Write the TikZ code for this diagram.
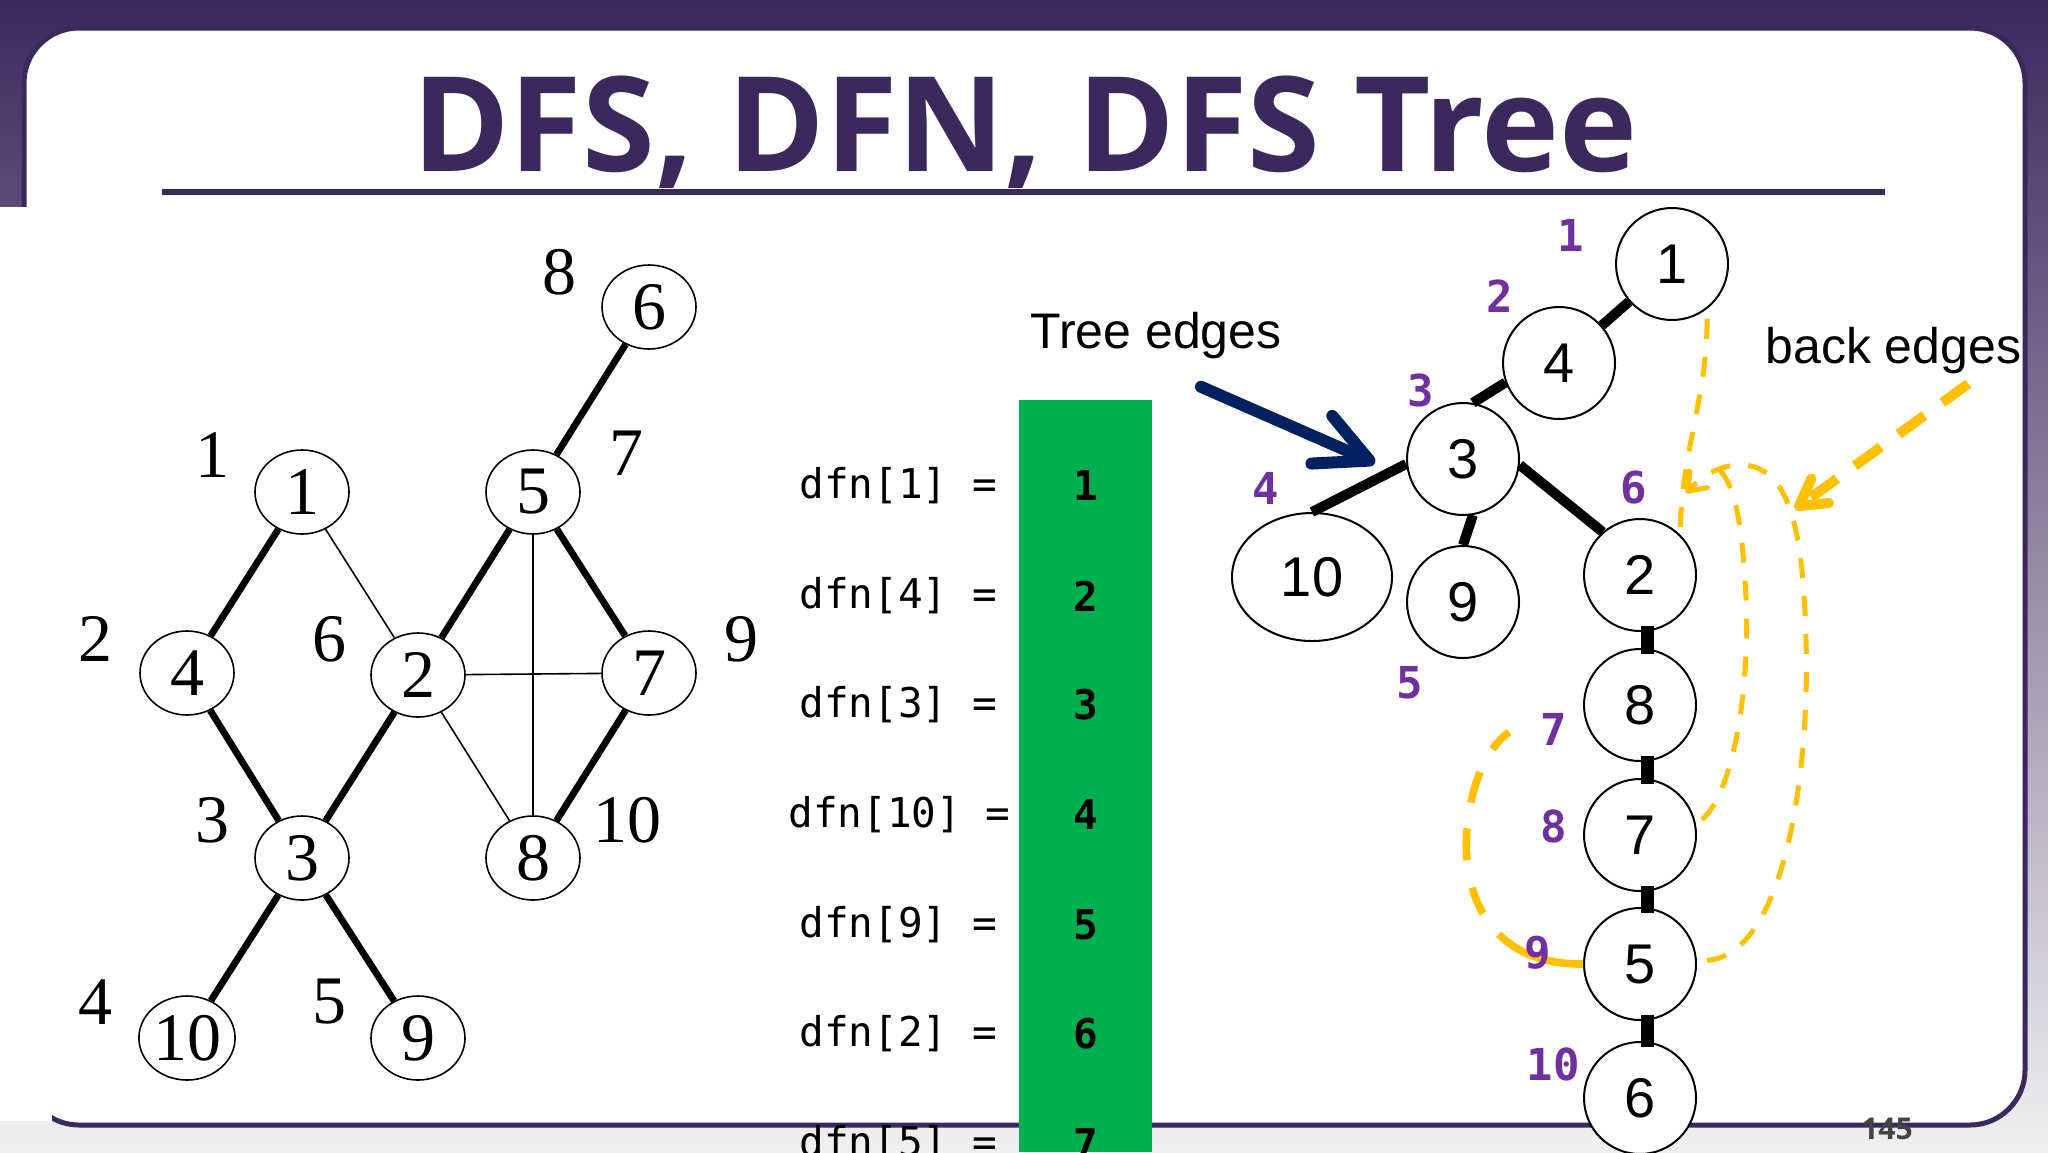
\documentclass[tikz,border=0pt]{standalone}
\usepackage{fontspec}
\usetikzlibrary{shapes.geometric,arrows.meta,calc}
\newfontfamily\titlef{Open Sans}
\newfontfamily\serf{Liberation Serif}
\newfontfamily\arf{Liberation Sans}
\newfontfamily\monof{DejaVu Sans Mono}
\definecolor{purp}{RGB}{59,41,93}
\definecolor{bggray}{RGB}{240,240,240}
\definecolor{barg}{RGB}{0,176,80}
\definecolor{navyc}{RGB}{0,32,96}
\definecolor{goldc}{RGB}{255,192,0}
\definecolor{lblp}{RGB}{112,48,160}
\definecolor{pgnum}{RGB}{68,68,68}
\begin{document}
\begin{tikzpicture}[x=0.5pt,y=-0.5pt,
  lnode/.style={ellipse,draw,line width=0.8pt,fill=white,minimum width=47pt,minimum height=42pt,inner sep=0pt,font=\serf\fontsize{34}{34}\selectfont},
  llab/.style={inner sep=0pt,font=\serf\fontsize{34}{34}\selectfont},
  thickedge/.style={line width=3.4pt},
  thinedge/.style={line width=0.8pt},
  tnode/.style={circle,draw,line width=1pt,fill=white,minimum size=56pt,inner sep=0pt,font=\arf\fontsize{28}{28}\selectfont},
  tedge/.style={line width=5pt},
  tbar/.style={line width=6.5pt},
  tlab/.style={inner sep=0pt,text=lblp,font=\monof\bfseries\fontsize{22}{22}\selectfont},
  dfnrow/.style={anchor=west,inner sep=0pt,font=\monof\fontsize{20.5}{20.5}\selectfont},
  dfnval/.style={inner sep=0pt,font=\monof\bfseries\fontsize{20.5}{20.5}\selectfont},
  backedge/.style={goldc,line width=2.5pt,dash pattern=on 10pt off 9pt},
  loopedge/.style={goldc,line width=3.8pt,dash pattern=on 46pt off 13pt on 14pt off 14pt on 16pt off 13pt on 16pt off 13pt on 12pt off 40pt},
  labarrow/.style={goldc,line width=5pt,dash pattern=on 16pt off 11pt,-{Straight Barb[length=13pt,width=15pt,round]}},
  navyarrow/.style={navyc,line width=6pt,line cap=round,-{Straight Barb[length=26pt,width=26pt,round]}},
  biglab/.style={anchor=base west,inner sep=0pt,font=\arf\fontsize{25}{25}\selectfont}
]
\useasboundingbox (0,0) rectangle (2048,1152);
\clip (0,0) rectangle (2048,1152);
% background
\shade[top color=purp, bottom color=bggray] (0,0) rectangle (2048,1152);
\filldraw[fill=white, draw=purp, line width=2.5pt, rounded corners=27.5pt] (24,28) rectangle (2025,1125);
\fill[white] (0,207) rectangle (52,1121);
% title
\node[anchor=base, text=purp, inner sep=0pt, font=\titlef\bfseries\fontsize{66}{66}\selectfont] (title) at (1025,171) {DFS, DFN, DFS Tree};
\draw[purp, line width=3pt] (162,192) -- (1885,192);

% ---------- left graph ----------
\node[lnode] (L6) at (649,307) {6};
\node[lnode] (L1) at (302,492) {1};
\node[lnode] (L5) at (533,492) {5};
\node[lnode] (L4) at (187,673) {4};
\node[lnode] (L2) at (418,675) {2};
\node[lnode] (L7) at (649,673) {7};
\node[lnode] (L3) at (302,858) {3};
\node[lnode] (L8) at (533,858) {8};
\node[lnode] (L10) at (187,1038) {10};
\node[lnode] (L9) at (418,1038) {9};
\draw[thickedge] (L6) -- (L5);
\draw[thickedge] (L1) -- (L4);
\draw[thickedge] (L4) -- (L3);
\draw[thickedge] (L3) -- (L2);
\draw[thickedge] (L2) -- (L5);
\draw[thickedge] (L5) -- (L7);
\draw[thickedge] (L7) -- (L8);
\draw[thickedge] (L3) -- (L10);
\draw[thickedge] (L3) -- (L9);
\draw[thinedge] (L1) -- (L2);
\draw[thinedge] (L2) -- (L7);
\draw[thinedge] (L5) -- (L8);
\draw[thinedge] (L2) -- (L8);
\node[llab] (la8) at (559,272) {8};
\node[llab] (la1) at (212,455) {1};
\node[llab] (la7) at (626,453) {7};
\node[llab] (la2) at (95,639) {2};
\node[llab] (la6) at (329,639) {6};
\node[llab] (la9) at (741,639) {9};
\node[llab] (la3) at (212,820) {3};
\node[llab] (la10) at (627,820) {10};
\node[llab] (la4) at (95,1002) {4};
\node[llab] (la5) at (329,1002) {5};

% ---------- dfn table ----------
\fill[barg] (1019,400) rectangle (1152,1152);
\node[dfnrow] (r1) at (799,486) {dfn[1] =};
\node[dfnrow] (r2) at (799,596) {dfn[4] =};
\node[dfnrow] (r3) at (799,705) {dfn[3] =};
\node[dfnrow] (r4) at (788,815) {dfn[10] =};
\node[dfnrow] (r5) at (799,925) {dfn[9] =};
\node[dfnrow] (r6) at (799,1034) {dfn[2] =};
\node[dfnrow] (r7) at (799,1144) {dfn[5] =};
\node[dfnval] (v1) at (1086,486) {1};
\node[dfnval] (v2) at (1086,596) {2};
\node[dfnval] (v3) at (1086,705) {3};
\node[dfnval] (v4) at (1086,815) {4};
\node[dfnval] (v5) at (1086,925) {5};
\node[dfnval] (v6) at (1086,1034) {6};
\node[dfnval] (v7) at (1086,1144) {7};

% ---------- DFS tree ----------
\node[tnode] (T1) at (1672,264) {1};
\node[tnode] (T4) at (1559,363) {4};
\node[tnode] (T3) at (1463,459) {3};
\node[tnode, ellipse, minimum width=80pt, minimum height=64pt] (T10) at (1312,577) {10};
\node[tnode] (T9) at (1463,602) {9};
\node[tnode] (T2) at (1640,575) {2};
\node[tnode] (T8) at (1640,705) {8};
\node[tnode] (T7) at (1640,835) {7};
\node[tnode] (T5) at (1640,964) {5};
\node[tnode] (T6) at (1640,1098) {6};
\draw[tedge] (T1) -- (T4);
\draw[tedge] (T4.200) -- (T3.80);
\draw[tedge] (T3.185) -- (T10.north);
\draw[tedge] (T3.-80) -- (T9.north);
\draw[tedge] (T3.-6) -- (T2.131);
\draw[tbar] ($(T2.south)+(7,-6)$) -- ($(T8.north)+(7,6)$);
\draw[tbar] ($(T8.south)+(7,-6)$) -- ($(T7.north)+(7,6)$);
\draw[tbar] ($(T7.south)+(7,-6)$) -- ($(T5.north)+(7,6)$);
\draw[tbar] ($(T5.south)+(7,-6)$) -- ($(T6.north)+(7,6)$);

% back edges
\draw[backedge, shorten <=5pt] (T1.-52) .. controls +(0,90) and +(0,-80) .. (T2.45);
\coordinate (btip) at (1714,465);
\draw[backedge, shorten <=4pt] (T7.10) .. controls (1735,790) and (1752,680) .. (1745,580) .. controls (1741,520) and (1735,480) .. (btip);
\coordinate (ctip) at (1686,493);
\draw[backedge, shorten <=5pt, -{Straight Barb[length=8pt,width=12pt,round]}] (T5.3) .. controls (1785,955) and (1810,770) .. (1806,640) .. controls (1803,530) and (1790,470) .. (1745,465) .. controls (1720,463) and (1700,478) .. (ctip);
\coordinate (dend) at (1522,726);
\draw[loopedge] (T5.west) .. controls (1480,965) and (1462,880) .. (1467,830) .. controls (1471,775) and (1495,733) .. (dend);

% labels
\node[biglab] (tel) at (1030,348) {Tree edges};
\node[biglab] (bel) at (1765,363) {back edges};
\coordinate (natip) at (1375,463);
\draw[navyarrow] ($(tel.south)+(45,28)$) -- (natip);
\coordinate (bet) at (1795,509);
\draw[labarrow] ($(bel.south)+(75,10)$) -- (bet);

\node[tlab] (d1) at (1571,235) {1};
\node[tlab] (d2) at (1500,296) {2};
\node[tlab] (d3) at (1421,390) {3};
\node[tlab] (d4) at (1266,488) {4};
\node[tlab] (d5) at (1410,683) {5};
\node[tlab] (d6) at (1634,488) {6};
\node[tlab] (d7) at (1554,729) {7};
\node[tlab] (d8) at (1554,826) {8};
\node[tlab] (d9) at (1538,953) {9};
\node[tlab] (d10) at (1553,1064) {10};

\node[inner sep=0pt, text=pgnum, font=\titlef\bfseries\fontsize{15}{15}\selectfont] (pg) at (1887,1129) {145};
\end{tikzpicture}
\end{document}
